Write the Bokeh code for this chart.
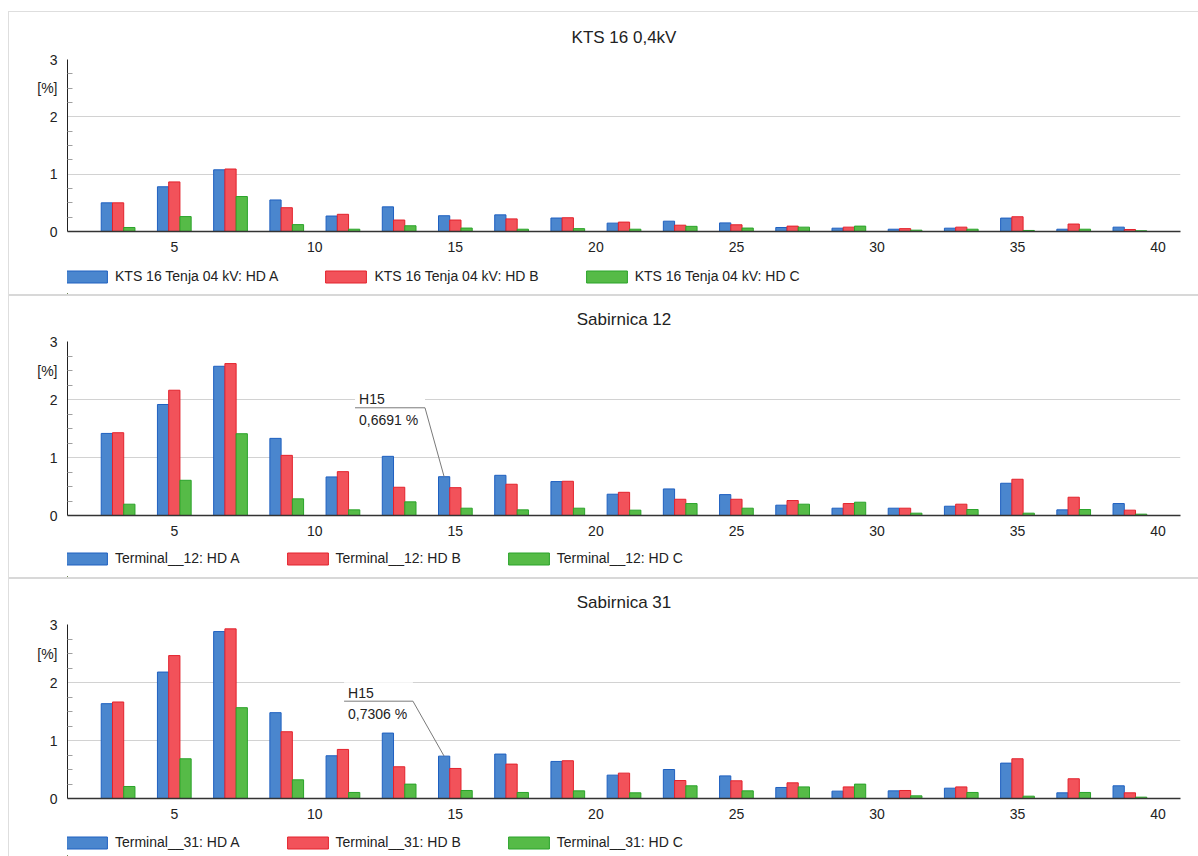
from bokeh.plotting import figure
from bokeh.models import Range1d, Legend, LegendItem, Label, FixedTicker, ColumnDataSource, Div
from bokeh.layouts import column, row
from bokeh.transform import dodge
from bokeh.embed import file_html
from bokeh.resources import INLINE

# ---------------- data ----------------
harmonics = [3, 5, 7, 9, 11, 13, 15, 17, 19, 21, 23, 25, 27, 29, 31, 33, 35, 37, 39]
x_ticks = [5, 10, 15, 20, 25, 30, 35, 40]
y_ticks = [0, 1, 2, 3]
y_unit_label = "[%]"
y_unit_pos = 2.5

titles = ["KTS 16 0,4kV", "Sabirnica 12", "Sabirnica 31"]
names_kts = ["KTS 16 Tenja 04 kV: HD A", "KTS 16 Tenja 04 kV: HD B", "KTS 16 Tenja 04 kV: HD C"]
names_s12 = ["Terminal__12: HD A", "Terminal__12: HD B", "Terminal__12: HD C"]
names_s31 = ["Terminal__31: HD A", "Terminal__31: HD B", "Terminal__31: HD C"]

kts_a = [0.50, 0.78, 1.076, 0.55, 0.27, 0.43, 0.275, 0.29, 0.235, 0.146, 0.18, 0.15, 0.07, 0.058, 0.04, 0.058, 0.234, 0.04, 0.076]
kts_b = [0.50, 0.865, 1.09, 0.415, 0.30, 0.20, 0.20, 0.22, 0.24, 0.164, 0.11, 0.117, 0.094, 0.076, 0.05, 0.076, 0.257, 0.13, 0.035]
kts_c = [0.07, 0.26, 0.61, 0.12, 0.04, 0.10, 0.06, 0.04, 0.05, 0.04, 0.09, 0.06, 0.076, 0.094, 0.023, 0.04, 0.018, 0.04, 0.012]

s12_a = [1.415, 1.914, 2.573, 1.33, 0.665, 1.02, 0.6691, 0.693, 0.585, 0.367, 0.458, 0.36, 0.178, 0.126, 0.126, 0.16, 0.556, 0.097, 0.206]
s12_b = [1.427, 2.16, 2.619, 1.037, 0.756, 0.487, 0.48, 0.539, 0.59, 0.40, 0.28, 0.28, 0.258, 0.206, 0.126, 0.195, 0.625, 0.315, 0.092]
s12_c = [0.195, 0.607, 1.41, 0.287, 0.097, 0.235, 0.126, 0.097, 0.126, 0.092, 0.206, 0.126, 0.195, 0.229, 0.04, 0.103, 0.04, 0.103, 0.023]

s31_a = [1.635, 2.18, 2.878, 1.48, 0.737, 1.128, 0.7306, 0.766, 0.639, 0.403, 0.50, 0.39, 0.19, 0.127, 0.132, 0.178, 0.61, 0.098, 0.219]
s31_b = [1.664, 2.464, 2.925, 1.151, 0.846, 0.547, 0.518, 0.593, 0.651, 0.4375, 0.31, 0.305, 0.27, 0.20, 0.138, 0.20, 0.685, 0.34, 0.098]
s31_c = [0.207, 0.685, 1.566, 0.322, 0.104, 0.248, 0.138, 0.104, 0.132, 0.098, 0.219, 0.132, 0.20, 0.248, 0.046, 0.104, 0.04, 0.104, 0.023]

ann_harmonic = 15
ann_label = "H15"

# ---------------- style ----------------
FONT = "Liberation Sans"
TXT = "#222222"
X_START, X_END = 1.2, 40.8
BAR_W = 0.4
FIG_W = 1189
B_LEFT, B_RIGHT = 58, 18
B_TOP, B_BOTTOM = 12, 30
FRAME_W = FIG_W - B_LEFT - B_RIGHT
COLORS = [("#4a86ce", "#1f60c0"), ("#f2525a", "#e3222c"), ("#56bb47", "#2aa32a")]
BORDER = "#dedede"
SEP = "#d8d8d8"
# annotation box placement per panel: (box left, box right, underline y) in data units
ann_place = [None, (11.43, 13.92, 1.857), (11.04, 13.49, 1.678)]
# per panel heights: (title strip, plot frame, legend strip, legend centre from strip top)
geom = [(35, 172, 33, 15), (33, 174, 32, 13), (33, 174, 28, 14)]


def blank_fig(h):
    # strip whose frame is aligned with the plot frame below/above it
    f = figure(width=FIG_W, height=h, x_range=Range1d(0, FRAME_W), y_range=Range1d(0, h),
               output_backend="svg", toolbar_location=None, title_location=None,
               x_axis_location=None, y_axis_location=None,
               min_border_left=B_LEFT, min_border_right=B_RIGHT,
               min_border_top=0, min_border_bottom=0)
    f.outline_line_color = None
    f.grid.visible = False
    f.background_fill_color = "white"
    f.border_fill_color = "white"
    return f


def title_fig(text, h):
    f = blank_fig(h)
    f.add_layout(Label(x=FRAME_W / 2, y=10, text=text,
                       text_align="center", text_baseline="middle",
                       text_font=FONT, text_font_size="17px", text_color=TXT))
    return f


def legend_fig(names, h, centre):
    f = blank_fig(h)
    # legend proxies: one point placed left of the visible strip so only the legend shows
    rends = [f.vbar(x=[-50], top=[1], width=1, fill_color=fc, line_color=lc, line_width=1)
             for fc, lc in COLORS]
    legend = Legend(items=[LegendItem(label=n, renderers=[r]) for n, r in zip(names, rends)],
                    orientation="horizontal", location=(-6, h - centre - 8),
                    border_line_color=None, background_fill_alpha=0,
                    padding=0, margin=0, spacing=42, label_standoff=3,
                    glyph_width=51, glyph_height=15, label_height=12,
                    label_text_font=FONT, label_text_font_size="14px",
                    label_text_color=TXT, label_text_baseline="middle")
    f.add_layout(legend)
    return f


def main_fig(series, frame_h, ann):
    ppu = frame_h / 3.0
    ppx = FRAME_W / (X_END - X_START)
    p = figure(width=FIG_W, height=frame_h + B_TOP + B_BOTTOM,
               x_range=Range1d(X_START, X_END), y_range=Range1d(0, 3),
               output_backend="svg", toolbar_location=None, title_location=None,
               min_border_left=B_LEFT, min_border_right=B_RIGHT,
               min_border_top=B_TOP, min_border_bottom=B_BOTTOM)
    p.outline_line_color = None
    p.background_fill_color = "white"
    p.border_fill_color = "white"

    xa = p.xaxis[0]
    xa.ticker = FixedTicker(ticks=x_ticks)
    xa.major_tick_in = 0
    xa.major_tick_out = 0
    xa.minor_tick_in = 0
    xa.minor_tick_out = 0
    xa.axis_line_color = "#333333"
    xa.axis_line_width = 1.5
    xa.major_label_text_font = FONT
    xa.major_label_text_font_size = "14px"
    xa.major_label_text_color = TXT
    xa.major_label_standoff = 10

    ya = p.yaxis[0]
    ya.ticker = FixedTicker(ticks=y_ticks + [y_unit_pos],
                            minor_ticks=[q / 4 for q in range(13) if q % 4])
    ya.major_label_overrides = {y_unit_pos: y_unit_label}
    ya.major_tick_in = 0
    ya.major_tick_out = 0
    ya.minor_tick_in = 5
    ya.minor_tick_out = 0
    ya.minor_tick_line_color = "#a0a0a0"
    ya.axis_line_color = "#222222"
    ya.axis_line_width = 1
    ya.major_label_text_font = FONT
    ya.major_label_text_font_size = "14px"
    ya.major_label_text_color = TXT
    ya.major_label_standoff = 10

    p.xgrid.visible = False
    p.ygrid.ticker = FixedTicker(ticks=y_ticks)
    p.ygrid.grid_line_color = "#d2d2d2"
    p.ygrid.grid_line_width = 1

    src = ColumnDataSource(dict(h=harmonics, a=series[0], b=series[1], c=series[2]))
    for key, off, (fill, line) in zip(["a", "b", "c"], [-BAR_W, 0, BAR_W], COLORS):
        p.vbar(x=dodge("h", off), top=key, width=BAR_W, source=src,
               fill_color=fill, line_color=line, line_width=1)

    if ann is not None:
        x0, x1, yl = ann
        v = series[0][harmonics.index(ann_harmonic)]
        p.quad(left=[x0], right=[x1], top=[yl + 19 / ppu], bottom=[yl - 24 / ppu],
               fill_color="white", line_color=None)
        p.line(x=[x0, x1, ann_harmonic - BAR_W], y=[yl, yl, v], line_color="#7a7a7a", line_width=1)
        p.add_layout(Label(x=x0 + 4 / ppx, y=yl + 8.5 / ppu, text=ann_label,
                           text_align="left", text_baseline="middle",
                           text_font=FONT, text_font_size="14px", text_color=TXT))
        p.add_layout(Label(x=x0 + 4 / ppx, y=yl - 12.5 / ppu,
                           text=("%.4f" % v).replace(".", ",") + " %",
                           text_align="left", text_baseline="middle",
                           text_font=FONT, text_font_size="14px", text_color=TXT))
    return p


def panel(i, title, names, series):
    th, fh, lh, lc = geom[i]
    return [title_fig(title, th), main_fig(series, fh, ann_place[i]), legend_fig(names, lh, lc)]


def bar_div(w, h, color=None):
    st = {"background-color": color} if color else {}
    return Div(text="", width=w, height=h, margin=0, styles=st)


items = [bar_div(FIG_W, 11), bar_div(FIG_W, 1, BORDER)]
items += panel(0, titles[0], names_kts, [kts_a, kts_b, kts_c])
items += [bar_div(FIG_W, 2, SEP)]
items += panel(1, titles[1], names_s12, [s12_a, s12_b, s12_c])
items += [bar_div(FIG_W, 2, SEP)]
items += panel(2, titles[2], names_s31, [s31_a, s31_b, s31_c])

col = column(*items, spacing=0)
left = column(bar_div(1, 11), bar_div(1, 845, BORDER), spacing=0)
layout = row(bar_div(8, 856), left, col, spacing=0)

open("out.html", "w").write(file_html(layout, INLINE, "Harmonics"))
